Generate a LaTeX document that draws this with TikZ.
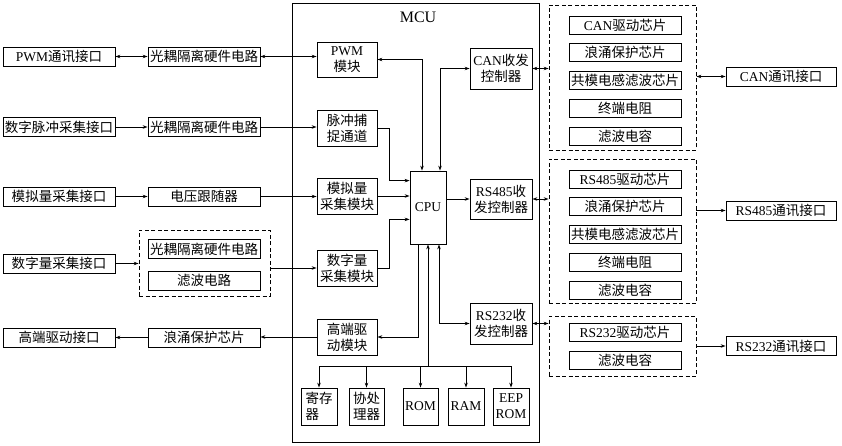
\documentclass[tikz,border=0pt]{standalone}
\usepackage{fontspec}
\setmainfont{Noto Sans CJK SC}
\newfontfamily\enfont{Liberation Serif}
\newcommand{\en}[1]{{\enfont #1}}
\usetikzlibrary{positioning}
\usetikzlibrary{calc}
\usetikzlibrary{arrows.meta}

\begin{document}
\begin{tikzpicture}[x=1pt, y=-1pt,
    >={Stealth[length=5pt,width=3.5pt]},
    font=\fontsize{13.5}{16}\selectfont,
    blk/.style={draw, line width=0.8pt, inner sep=0pt, align=center},
    iface/.style={blk, minimum width=112pt, minimum height=19pt},
    modl/.style={blk, minimum width=60pt, minimum height=36pt},
    ctrl/.style={blk, minimum width=62pt, minimum height=41pt},
    mem/.style={blk, minimum width=36pt, minimum height=37pt},
    chip/.style={blk, minimum width=112pt, minimum height=18pt},
    grp/.style={draw, line width=0.8pt, dash pattern=on 4pt off 2.5pt, inner sep=0pt},
    wire/.style={line width=0.8pt}]
        \useasboundingbox (0,0) rectangle (842,446);

        % nodes %
        \node[draw, line width=0.8pt, minimum width=247pt, minimum height=439pt] (mcu) at (415.5,222.5) {};
        \node[font=\enfont\fontsize{16}{16}\selectfont] (mcut) at (418,17) {MCU};

        % left side
        \node[iface] (pwmif) at (59,56.5) {\en{PWM}通讯接口};
        \node[iface] (opt1) at (204,56.5) {光耦隔离硬件电路};
        \node[iface] (pulseif) at (59,127) {数字脉冲采集接口};
        \node[iface] (opt2) at (204,127) {光耦隔离硬件电路};
        \node[iface] (anaif) at (59,196.5) {模拟量采集接口};
        \node[iface] (vfol) at (204,196.5) {电压跟随器};
        \node[iface] (digif) at (59,263.5) {数字量采集接口};
        \node[grp, minimum width=131pt, minimum height=66pt] (grpd) at (204.5,263) {};
        \node[iface] (opt3) at (204,249) {光耦隔离硬件电路};
        \node[iface] (filt) at (204,280.5) {滤波电路};
        \node[iface] (hsif) at (59,337.5) {高端驱动接口};
        \node[iface] (surge) at (204,337.5) {浪涌保护芯片};

        % inside mcu
        \node[modl, minimum height=35pt] (pwm) at (347,59.5) {\en{PWM}\\模块};
        \node[modl] (pulse) at (347,128) {脉冲捕\\捉通道};
        \node[modl] (ana) at (347,196) {模拟量\\采集模块};
        \node[modl] (dig) at (347,268) {数字量\\采集模块};
        \node[modl] (hs) at (347,337) {高端驱\\动模块};
        \node[blk, minimum width=36pt, minimum height=73pt] (cpu) at (428,207.5) {\en{CPU}};
        \node[ctrl] (can) at (501,68.5) {\en{CAN}收发\\控制器};
        \node[ctrl, minimum height=40pt] (r485) at (501,199) {\en{RS485}收\\发控制器};
        \node[ctrl] (r232) at (501,323.5) {\en{RS232}收\\发控制器};
        \node[mem, align=left] (reg) at (319,406.5) {寄存\\器};
        \node[mem, minimum width=35pt] (cop) at (366.5,406.5) {协处\\理器};
        \node[mem, minimum width=35pt] (rom) at (420.5,406.5) {\en{ROM}};
        \node[mem] (ram) at (466,406.5) {\en{RAM}};
        \node[mem] (eep) at (511,406.5) {\en{EEP}\\\en{ROM}};
        \coordinate (bus) at (428,366);

        % right side
        \node[grp, minimum width=147pt, minimum height=145pt] (grp1) at (622.5,77.5) {};
        \node[chip] (can1) at (625,25) {\en{CAN}驱动芯片};
        \node[chip, below=9pt of can1] (can2) {浪涌保护芯片};
        \node[chip, below=9pt of can2] (can3) {共模电感滤波芯片};
        \node[chip, below=9pt of can3] (can4) {终端电阻};
        \node[chip, below=9pt of can4] (can5) {滤波电容};
        \node[iface, minimum width=110pt] (canif) at (781,76.5) {\en{CAN}通讯接口};

        \node[grp, minimum width=147pt, minimum height=144pt] (grp2) at (622.5,231) {};
        \node[chip] (rs1) at (625,179) {\en{RS485}驱动芯片};
        \node[chip, below=9pt of rs1] (rs2) {浪涌保护芯片};
        \node[chip, below=9pt of rs2] (rs3) {共模电感滤波芯片};
        \node[chip, below=9pt of rs3] (rs4) {终端电阻};
        \node[chip, below=9pt of rs4] (rs5) {滤波电容};
        \node[iface, minimum width=110pt] (r485if) at (781,210.5) {\en{RS485}通讯接口};

        \node[grp, minimum width=147pt, minimum height=60pt] (grp3) at (622.5,346) {};
        \node[chip] (rt1) at (625,332) {\en{RS232}驱动芯片};
        \node[chip, below=10pt of rt1] (rt2) {滤波电容};
        \node[iface, minimum width=110pt] (r232if) at (781,346) {\en{RS232}通讯接口};

        % edges %
        \draw[<->, wire] (pwmif) -- (opt1);
        \draw[<->, wire] (opt1.east) -- (opt1.east -| pwm.west);
        \draw[->, wire] (pulseif) -- (opt2);
        \draw[->, wire] (opt2.east) -- (opt2.east -| pulse.west);
        \draw[->, wire] (anaif) -- (vfol);
        \draw[->, wire] (vfol.east) -- (vfol.east -| ana.west);
        \draw[->, wire] (digif.east) -- (digif.east -| grpd.west);
        \draw[->, wire] (grpd.east |- dig) -- (dig.west);
        \draw[->, wire] (surge) -- (hsif);
        \draw[->, wire] (hs.west) -- (hs.west -| surge.east);

        \draw[<->, wire] (pwm.east) -| ([xshift=-6pt]cpu.north);
        \draw[<->, wire] (can.west) -| ([xshift=12pt]cpu.north);
        \draw[->, wire] (pulse.east) -- ++(12,0) |- ([yshift=-10pt]cpu.north west);
        \draw[->, wire] (ana.east) -- (ana.east -| cpu.west);
        \draw[->, wire] (dig.east) -- ++(12,0) |- ([yshift=25pt]cpu.south west);
        \draw[->, wire] (cpu.east |- r485.west) -- (r485.west);
        \draw[->, wire] ([xshift=-10pt]cpu.south) |- (hs.east);
        \draw[<->, wire] ([xshift=11pt]cpu.south) |- (r232.west);
        \draw[->, wire] (bus) -- (cpu.south);
        \draw[wire] (bus -| reg) -- (bus -| eep);
        \foreach \m in {reg,cop,rom,ram,eep}
            \draw[->, wire] (bus -| \m) -- (\m.north);

        \draw[<->, wire] (can.east) -- (can.east -| grp1.west);
        \draw[<->, wire] (canif.west -| grp1.east) -- (canif.west);
        \draw[<->, wire] (r485.east) -- (r485.east -| grp2.west);
        \draw[->, wire] (r485if.west -| grp2.east) -- (r485if.west);
        \draw[<->, wire] (r232.east) -- (r232.east -| grp3.west);
        \draw[->, wire] (r232if.west -| grp3.east) -- (r232if.west);
      \end{tikzpicture}
\end{document}
